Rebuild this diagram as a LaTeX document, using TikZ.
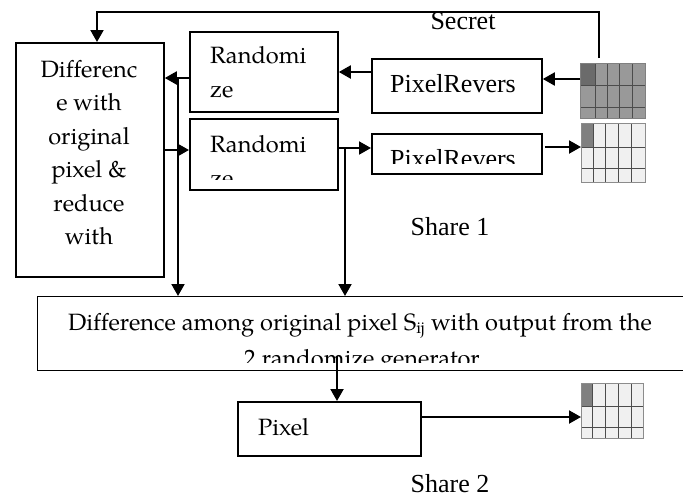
\documentclass[tikz,border=0pt]{standalone}
\usepackage{fontspec}
\setmainfont{Liberation Serif}
\newfontfamily\pala[Ligatures=CommonOff]{TeX Gyre Pagella}
\usetikzlibrary{arrows.meta}
\begin{document}
\begin{tikzpicture}[x=1pt,y=-1pt,
  box/.style={draw, line width=1.8pt, inner sep=0pt, anchor=north west},
  arr/.style={line width=2pt, -{Triangle[length=12pt,width=13pt]}},
  pt/.style={font=\pala\fontsize{23.6}{33}\selectfont, inner sep=0pt},
  tm/.style={font=\fontsize{26}{30}\selectfont, inner sep=0pt},
  gridl/.style={line width=1pt, draw=black!70},
  grid/.style={anchor=north west, inner sep=0pt},
]
\useasboundingbox (0,0) rectangle (683,499);

% boxes
\node[box, minimum width=148pt, minimum height=234pt] (diff) at (15,42) {};
\node[box, minimum width=148pt, minimum height=80pt] (rand1) at (189,31) {};
\node[box, minimum width=148pt, minimum height=71pt] (rand2) at (189,118) {};
\node[box, minimum width=170pt, minimum height=54pt] (prev1) at (371,58) {};
\node[box, minimum width=170pt, minimum height=40pt] (prev2) at (371,133) {};
\node[box, minimum width=660pt, minimum height=74pt, line width=1.4pt] (among) at (37,296) {};
\node[box, minimum width=183pt, minimum height=54pt] (pixel) at (237,401) {};

% grids
\node[grid, minimum width=65pt, minimum height=55pt, fill=black!40] (secretg) at (580,63) {};
\fill[black!58] (580,63) rectangle (595,85);
\foreach \x in {595,607,619,632} \draw[gridl] (\x,63) -- (\x,118);
\foreach \y in {85,107} \draw[gridl] (580,\y) -- (645,\y);
\draw[gridl, draw=black!50] (580,63) rectangle (645,118);

\node[grid, minimum width=64pt, minimum height=59pt, fill=black!6] (share1g) at (581,123) {};
\fill[black!50] (581,123) rectangle (593,147);
\foreach \x in {593,605,618,631} \draw[gridl] (\x,123) -- (\x,182);
\foreach \y in {147,168} \draw[gridl] (581,\y) -- (645,\y);
\draw[gridl, draw=black!45] (581,123) rectangle (645,182);

\node[grid, minimum width=62pt, minimum height=55pt, fill=black!6] (share2g) at (581,383) {};
\fill[black!50] (581,383) rectangle (592,406);
\foreach \x in {592,605,618,631} \draw[gridl] (\x,383) -- (\x,438);
\foreach \y in {406,427} \draw[gridl] (581,\y) -- (643,\y);
\draw[gridl, draw=black!45] (581,383) rectangle (643,438);

% texts
\foreach \t/\yy in {Differenc/77, e with/110.5, original/144, pixel \&/177.5, reduce/211, with/244.5}
  \node[pt, anchor=base] at (89,\yy) {\t};
\node[pt, anchor=base west] at (210,63) {Randomi};
\node[pt, anchor=base west] at (210,97) {ze};
\begin{scope}
  \clip (rand2.north west) rectangle ([yshift=11pt]rand2.south east);
  \node[pt, anchor=base west] at (210,152) {Randomi};
  \node[pt, anchor=base west] at (210,186) {ze};
\end{scope}
\node[tm, anchor=base] at (453,92) {PixelRevers};
\begin{scope}
  \clip (prev2.north west) rectangle ([yshift=11pt]prev2.south east);
  \node[tm, anchor=base] at (453,167) {PixelRevers};
\end{scope}
\begin{scope}
  \clip (among.north west) rectangle ([yshift=9pt]among.south east);
  \node[pt, anchor=base] at (360,330) {Difference among original pixel S\textsubscript{ij} with output from the};
  \node[pt, anchor=base] at (362,366) {2 randomize generator};
\end{scope}
\node[pt, anchor=base west] at (258,435) {Pixel};
\node[tm, anchor=base] at (463,29) {Secret};
\node[tm, anchor=base] at (450,235) {Share 1};
\node[tm, anchor=base] at (450,492) {Share 2};

% connectors
\coordinate (s1) at (599,58);
\coordinate (s2) at (97,12);
\draw[arr] (s1) |- (s2) -- (s2 |- diff.north);
\coordinate (h79) at (0,79);
\draw[arr] (secretg.west |- h79) -- (prev1.east |- h79);
\coordinate (h72) at (0,72);
\draw[arr] (prev1.west |- h72) -- (rand1.east |- h72);
\coordinate (h78) at (0,78);
\draw[arr] (rand1.west |- h78) -- (diff.east |- h78);
\coordinate (v178) at (178,0);
\draw[arr] (v178 |- h78) -- (v178 |- among.north);
\coordinate (h150) at (0,150);
\draw[arr] (diff.east |- h150) -- (rand2.west |- h150);
\coordinate (h148) at (0,148);
\draw[arr] (rand2.east |- h148) -- (prev2.west |- h148);
\coordinate (v345) at (345,0);
\draw[arr] (v345 |- h148) -- (v345 |- among.north);
\coordinate (h147) at (0,147);
\draw[arr] ([xshift=2pt]prev2.east |- h147) -- (share1g.west |- h147);
\coordinate (v337) at (337,0);
\coordinate (h356) at (0,356);
\draw[arr] (v337 |- h356) -- (v337 |- pixel.north);
\coordinate (h417) at (0,417);
\draw[arr] (pixel.east |- h417) -- (share2g.west |- h417);
\end{tikzpicture}
\end{document}
